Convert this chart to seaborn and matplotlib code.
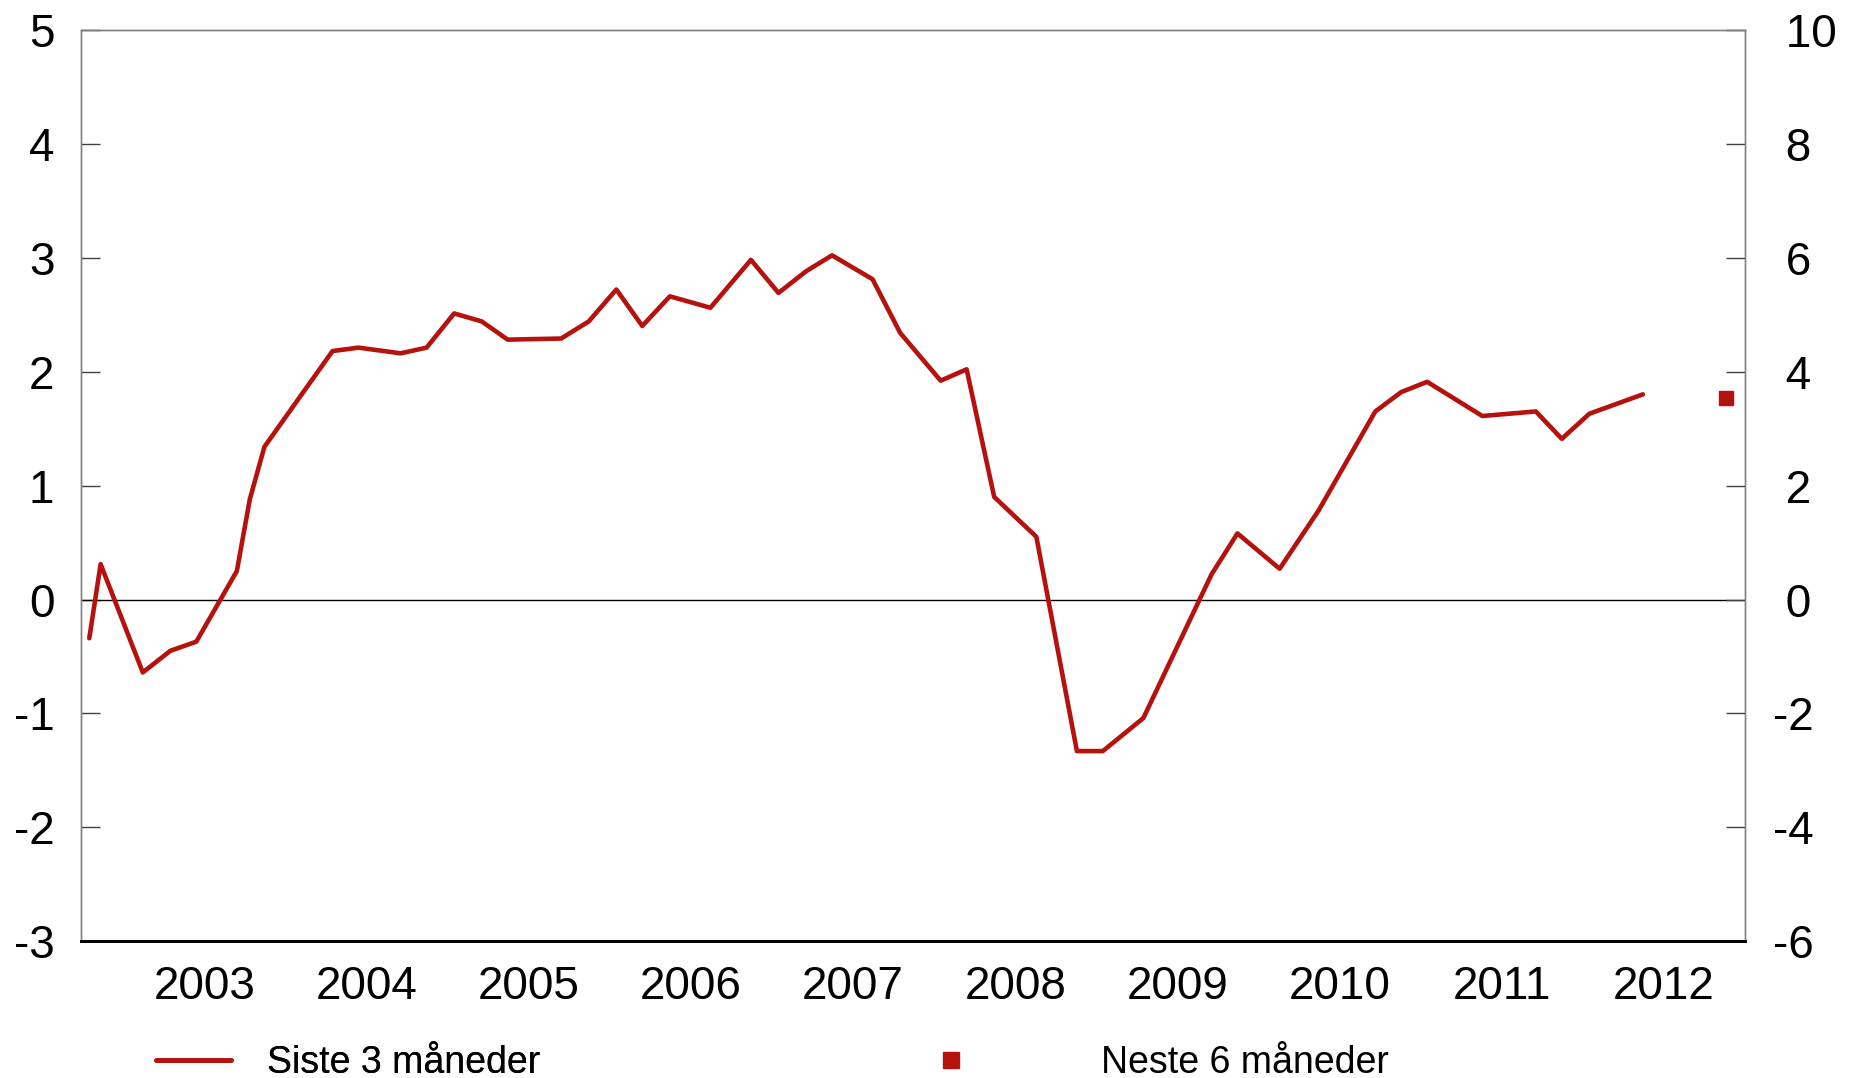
import numpy as np
import pandas as pd
import matplotlib
matplotlib.use('Agg')
import matplotlib.pyplot as plt
from matplotlib.lines import Line2D
from matplotlib.ticker import FixedLocator, NullFormatter
import seaborn as sns

# Data (fractional years, percent)
dates = [2002.79, 2002.86, 2003.12, 2003.29, 2003.45, 2003.70, 2003.78, 2003.87,
         2004.12, 2004.29, 2004.45, 2004.71, 2004.87, 2005.04, 2005.21, 2005.37,
         2005.70, 2005.87, 2006.04, 2006.20, 2006.37, 2006.62, 2006.87, 2007.04,
         2007.21, 2007.37, 2007.62, 2007.79, 2008.04, 2008.20, 2008.37, 2008.63,
         2008.88, 2009.04, 2009.29, 2009.71, 2009.87, 2010.13, 2010.37, 2010.72,
         2010.88, 2011.04, 2011.38, 2011.71, 2011.87, 2012.04, 2012.37]
siste3 = [-0.34, 0.31, -0.64, -0.45, -0.37, 0.25, 0.88, 1.34,
          1.84, 2.18, 2.21, 2.16, 2.21, 2.51, 2.44, 2.28,
          2.29, 2.44, 2.72, 2.40, 2.66, 2.56, 2.98, 2.69,
          2.88, 3.02, 2.81, 2.34, 1.92, 2.02, 0.90, 0.55,
          -1.33, -1.33, -1.04, 0.22, 0.58, 0.27, 0.78, 1.65,
          1.82, 1.91, 1.61, 1.65, 1.41, 1.63, 1.80]
neste6_date = [2012.88]
neste6 = [3.54]   # right axis

years = list(range(2003, 2013))
left_ticks = list(range(-3, 6))
right_ticks = list(range(-6, 11, 2))

red = '#B5120E'
grey = '#808080'

sns.set_style('white')
plt.rcParams['font.family'] = ['Liberation Sans', 'DejaVu Sans']
plt.rcParams['text.color'] = 'black'
plt.rcParams['xtick.labelcolor'] = 'black'
plt.rcParams['ytick.labelcolor'] = 'black'

df = pd.DataFrame({'date': dates, 'value': siste3})

fig = plt.figure(figsize=(18.59, 10.78), dpi=100)
ax = fig.add_axes([0.0434, 0.1267, 0.8953, 0.8458])
ax2 = ax.twinx()

sns.lineplot(data=df, x='date', y='value', ax=ax, color=red, linewidth=3.3)
ax2.plot(neste6_date, neste6, 's', color=red, markersize=10.5)

ax.axhline(0, color='black', linewidth=1.0, zorder=1)

ax.set_xlim(2002.737, 2013.0)
ax.set_ylim(-3, 5)
ax2.set_ylim(-6, 10)

ax.set_xlabel('')
ax.set_ylabel('')

# year boundaries as ticks, labels centred in each year
ax.xaxis.set_major_locator(FixedLocator(years))
ax.xaxis.set_major_formatter(NullFormatter())
ax.set_xticks([y + 0.5 for y in years], [str(y) for y in years], minor=True)
ax.tick_params(axis='x', which='major', direction='in', length=16, width=1, color='#404040')
ax.tick_params(axis='x', which='minor', length=0, labelsize=33, pad=17)

ax.set_yticks(left_ticks)
ax.set_yticklabels([str(v) for v in left_ticks])
ax.tick_params(axis='y', direction='in', length=14, width=1, color='#404040',
               labelsize=33, pad=19)

ax2.set_yticks(right_ticks)
ax2.set_yticklabels([('' if v < 0 else ' ') + str(v) for v in right_ticks])
ax2.tick_params(axis='y', direction='in', length=14, width=1, color='#404040',
                labelsize=33, pad=20)
for lab in ax2.get_yticklabels():
    lab.set_horizontalalignment('left')

for a in (ax, ax2):
    for side in ('left', 'right', 'top'):
        a.spines[side].set_color(grey)
        a.spines[side].set_linewidth(1.0)
    a.spines['bottom'].set_color('black')
    a.spines['bottom'].set_linewidth(2.0)

# legend, two separate pieces along the bottom
h1 = Line2D([], [], color=red, linewidth=3.4)
h2 = Line2D([], [], color=red, marker='s', linestyle='none', markersize=11)
leg1 = fig.legend([h1], ['Siste 3 måneder'], loc='center left',
                  bbox_to_anchor=(0.0839, 0.0140), frameon=False, fontsize=27,
                  handlelength=2.0, handletextpad=0.95, borderpad=0, borderaxespad=0)
leg2 = fig.legend([h2], ['Neste 6 måneder'], loc='center left',
                  bbox_to_anchor=(0.4914, 0.0140), frameon=False, fontsize=27,
                  handlelength=2.0, handletextpad=3.0, borderpad=0, borderaxespad=0)
fig.add_artist(leg1)

fig.savefig('out.png', dpi=100)
